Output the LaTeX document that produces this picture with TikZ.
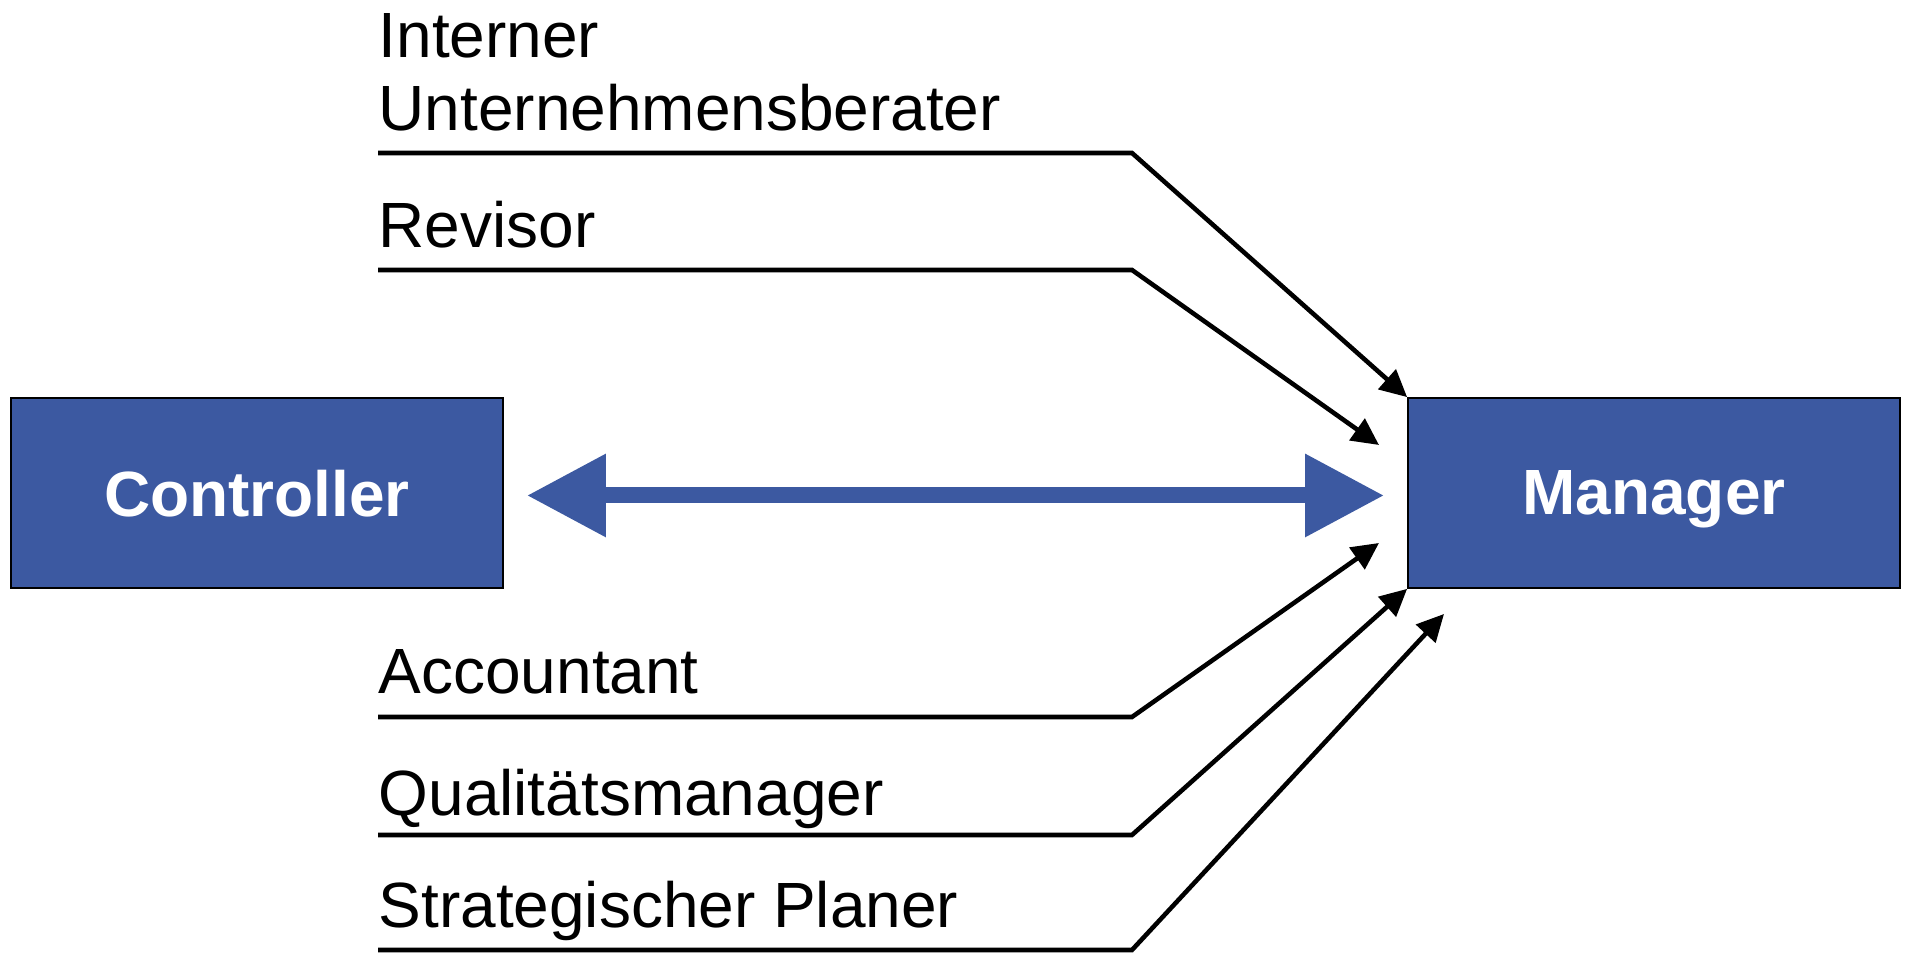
\documentclass[tikz,border=0pt]{standalone}
\usepackage{fontspec}
\setmainfont{Liberation Sans}
\usetikzlibrary{arrows.meta}
\definecolor{boxblue}{RGB}{60,89,161}
\tikzset{
    box/.style={rectangle,draw=black,line width=0.5pt,fill=boxblue,text=white,font=\fontsize{18.2}{21}\selectfont\bfseries,minimum width=49.2mm,minimum height=19mm,inner sep=0pt,text depth=0pt},
    role/.style={anchor=base west,inner sep=0pt,font=\fontsize{18.2}{21}\selectfont,align=left},
    directed/.style={line width=1.3pt,arrows={-Triangle[length=2.7mm,width=2.6mm]}},
    link/.style={draw=boxblue,line width=1.6mm,arrows={Triangle[length=7.9mm,width=7.9mm]-Triangle[length=7.9mm,width=7.9mm]},shorten <=2.3mm,shorten >=2.3mm},
}
\begin{document}
\begin{tikzpicture}[x=0.1mm,y=-0.1mm]
    \useasboundingbox (0,0) rectangle (1908,953);
		\node[box] (c) at (257,493) {Controller};
		\node[box] (m) at (1654,493) {Manager};

		\node[role] (ib) at (378,131) {Interner\\Unternehmensberater};
		\node[role] (rv) at (378,248) {Revisor};
		\node[role] (ac) at (378,694) {Accountant};
		\node[role] (qm) at (378,816) {Qualitätsmanager};
		\node[role] (sp) at (378,928) {Strategischer Planer};

		\coordinate (s1) at (378,153);
		\coordinate (s2) at (378,270);
		\coordinate (s3) at (378,717);
		\coordinate (s4) at (378,835);
		\coordinate (s5) at (378,950);
		\coordinate (k1) at (1132,153);
		\coordinate (k2) at (1132,270);
		\coordinate (k3) at (1132,717);
		\coordinate (k4) at (1132,835);
		\coordinate (k5) at (1132,950);
		\coordinate (t2) at (1379,445);
		\coordinate (t3) at (1379,543);
		\coordinate (t5) at (1444,614);

	\draw[link] ([yshift=-0.25mm]c.east) -- ([yshift=-0.25mm]m.west);

	\draw[directed] (s1) -- (k1) -- (m.north west);
	\draw[directed] (s2) -- (k2) -- (t2);
	\draw[directed] (s3) -- (k3) -- (t3);
	\draw[directed] (s4) -- (k4) -- (m.south west);
	\draw[directed] (s5) -- (k5) -- (t5);
\end{tikzpicture}
\end{document}
